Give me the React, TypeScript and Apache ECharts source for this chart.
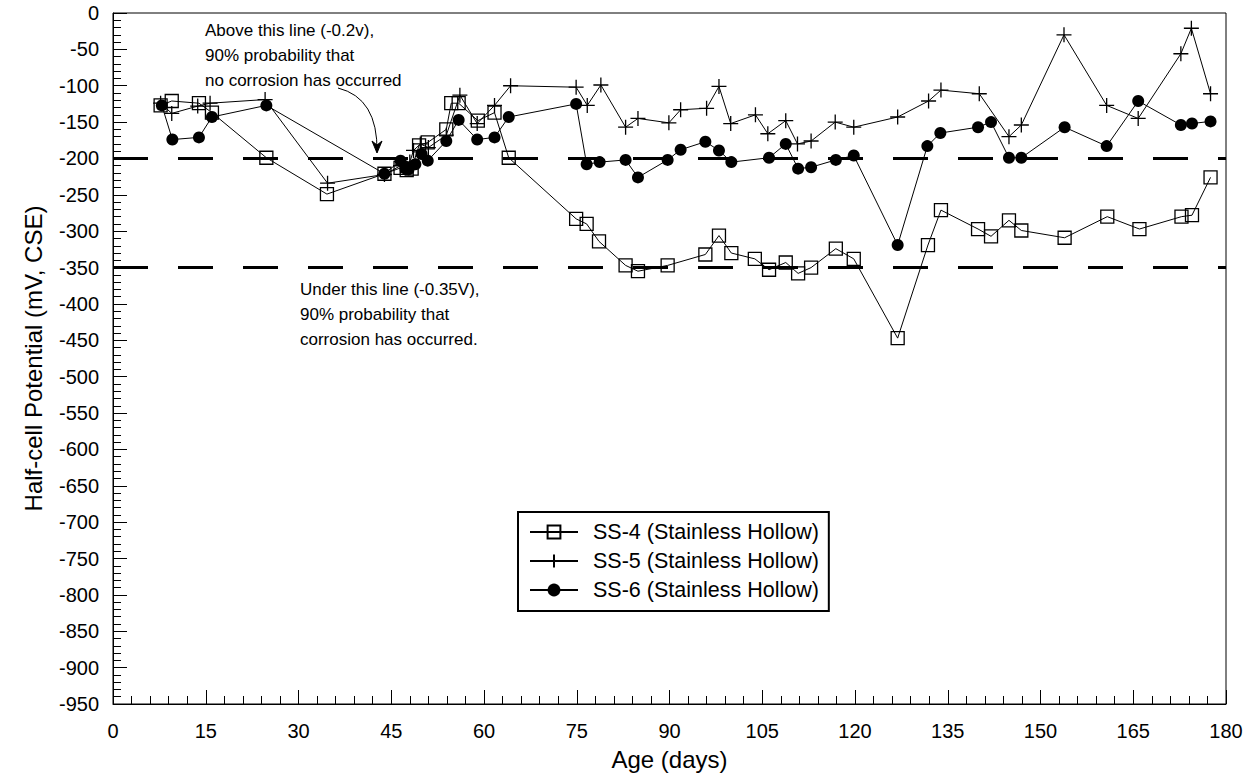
import React, { useEffect, useRef } from "react";
import * as echarts from "echarts";

const FONT = "'Liberation Sans', Arial, Helvetica, sans-serif";

const ss4Days = [7.7, 9.5, 13.9, 16, 24.8, 34.6, 43.9, 46.5, 47.5, 48.3, 49.5, 50.9, 53.9, 54.7, 55.9, 59, 61.7, 64, 74.9, 76.6, 78.6, 82.9, 84.9, 89.7, 95.8, 98, 100, 103.8, 106.1, 108.8, 110.8, 112.9, 116.9, 119.8, 126.9, 131.8, 133.9, 139.9, 142, 144.9, 146.9, 153.9, 160.8, 166, 172.8, 174.5, 177.5];
const ss4Values = [-127, -121, -124, -137, -199, -249, -221, -213, -216, -214, -182, -178, -160, -124, -124, -148, -137, -199, -283, -290, -314, -347, -355, -347, -332, -306, -330, -338, -353, -343, -358, -350, -324, -338, -447, -319, -271, -297, -307, -285, -299, -309, -280, -297, -280, -278, -226];

const ss5Days = [7.7, 9.5, 13.7, 15.7, 24.6, 34.7, 43.9, 46.5, 48, 48.6, 49.7, 51, 53.9, 56.1, 58.9, 61.7, 64.3, 74.9, 76.7, 78.9, 82.9, 84.9, 89.9, 91.8, 96, 98, 99.9, 103.9, 105.9, 108.8, 110.7, 112.9, 116.8, 119.8, 126.9, 131.9, 133.9, 140.1, 144.9, 146.9, 153.8, 160.7, 165.8, 172.7, 174.4, 177.5];
const ss5Values = [-124, -138, -128, -124, -119, -234, -222, -210, -205, -189, -180, -185, -168, -113, -152, -127, -100, -102, -127, -99, -157, -145, -151, -133, -131, -101, -152, -140, -166, -148, -180, -176, -150, -157, -143, -121, -106, -111, -170, -154, -30, -127, -145, -56, -21, -111];

const ss6Days = [7.9, 9.6, 13.9, 16, 24.8, 43.9, 46.5, 47.3, 47.8, 48.9, 49.9, 50.9, 53.9, 55.9, 58.9, 61.7, 64, 74.9, 76.6, 78.7, 82.9, 84.9, 89.7, 91.8, 95.8, 98, 100, 106.1, 108.8, 110.8, 112.9, 116.9, 119.8, 126.9, 131.7, 133.8, 139.9, 142, 144.9, 146.9, 153.9, 160.7, 165.8, 172.7, 174.5, 177.5];
const ss6Values = [-127, -174, -171, -143, -127, -221, -203, -214, -215, -208, -194, -203, -176, -147, -174, -171, -143, -125, -208, -205, -202, -226, -202, -188, -177, -189, -205, -199, -180, -214, -212, -202, -196, -319, -183, -165, -157, -150, -199, -199, -157, -183, -121, -154, -152, -149];

const seriesNames = ["SS-4 (Stainless Hollow)", "SS-5 (Stainless Hollow)", "SS-6 (Stainless Hollow)"];
const thresholdValues = [-200, -350];
const xTicks = { min: 0, max: 180, interval: 15 };
const yTicks = { min: -950, max: 0, interval: 50 };

const pair = (d: number[], v: number[]) => d.map((x, i) => [x, v[i]]);

export default function App() {
  const ref = useRef<HTMLDivElement>(null);
  useEffect(() => {
    document.body.style.margin = "0";
    const chart = echarts.init(ref.current!, null, { renderer: "svg" });
    const axisCommon = {
      axisLine: { show: true, onZero: false, lineStyle: { color: "#000", width: 1 } },
      axisTick: { show: true, inside: true, length: 14, lineStyle: { color: "#000", width: 1 } },
      minorTick: { show: true, splitNumber: 5, length: 8, lineStyle: { color: "#000", width: 1 } },
      splitLine: { show: false },
      axisLabel: { color: "#000", fontSize: 20, fontFamily: FONT },
      nameTextStyle: { color: "#000", fontSize: 24, fontFamily: FONT },
    };
    chart.setOption({
      animation: false,
      backgroundColor: "#fff",
      grid: { left: 113, right: 23, top: 13, bottom: 78, show: true, borderColor: "#000", borderWidth: 1, backgroundColor: "transparent" },
      xAxis: {
        type: "value",
        ...xTicks,
        ...axisCommon,
        axisLabel: { ...axisCommon.axisLabel, margin: 17 },
        name: "Age (days)",
        nameLocation: "middle",
        nameGap: 43,
      },
      yAxis: {
        type: "value",
        ...yTicks,
        ...axisCommon,
        axisLabel: { ...axisCommon.axisLabel, margin: 14 },
        name: "Half-cell Potential (mV, CSE)",
        nameLocation: "middle",
        nameGap: 68,
      },
      legend: {
        data: seriesNames,
        orient: "vertical",
        left: 518,
        top: 512,
        borderColor: "#000",
        borderWidth: 2,
        padding: [9, 10, 10, 11],
        itemWidth: 48,
        itemHeight: 16,
        itemGap: 7,
        textStyle: { color: "#000", fontSize: 21.5, fontFamily: FONT, padding: [0, 0, 0, 10] },
      },
      series: [
        {
          name: seriesNames[0],
          type: "line",
          data: pair(ss4Days, ss4Values),
          symbol: "rect",
          symbolSize: 13,
          lineStyle: { color: "#000", width: 1 },
          itemStyle: { color: "rgba(255,255,255,0)", borderColor: "#000", borderWidth: 1.3 },
        },
        {
          name: seriesNames[1],
          type: "line",
          data: pair(ss5Days, ss5Values),
          symbol: "path://M7,0L7,14M0,7L14,7",
          symbolSize: 15,
          lineStyle: { color: "#000", width: 1 },
          itemStyle: { color: "#000", borderColor: "#000", borderWidth: 1.3 },
        },
        {
          name: seriesNames[2],
          type: "line",
          data: pair(ss6Days, ss6Values),
          symbol: "circle",
          symbolSize: 12,
          lineStyle: { color: "#000", width: 1 },
          itemStyle: { color: "#000" },
        },
        {
          name: "thresholds",
          type: "line",
          data: [],
          markLine: {
            silent: true,
            symbol: ["none", "none"],
            label: { show: false },
            lineStyle: { color: "#000", width: 3, type: [35, 30], dashOffset: 0 },
            data: thresholdValues.map((v) => ({ yAxis: v })),
          },
        },
      ],
      graphic: [
        {
          type: "text",
          left: 205,
          top: 18,
          style: {
            text: "Above this line (-0.2v),\n90% probability that\nno corrosion has occurred",
            font: `17px ${FONT}`,
            fill: "#000",
            lineHeight: 25,
          },
        },
        {
          type: "text",
          left: 300,
          top: 277,
          style: {
            text: "Under this line (-0.35V),\n90% probability that\ncorrosion has occurred.",
            font: `17px ${FONT}`,
            fill: "#000",
            lineHeight: 25,
          },
        },
        {
          type: "bezierCurve",
          shape: { x1: 338, y1: 88, cpx1: 378, cpy1: 98, x2: 377, y2: 152 },
          style: { stroke: "#000", lineWidth: 1, fill: null },
        },
        {
          type: "polygon",
          shape: { points: [[372, 141], [377, 153], [382, 141], [377, 145]] },
          style: { fill: "#000", stroke: "#000", lineWidth: 1 },
        },
      ],
    });
    return () => chart.dispose();
  }, []);
  return <div ref={ref} style={{ position: "absolute", left: 0, top: 0, width: 1249, height: 782 }} />;
}
